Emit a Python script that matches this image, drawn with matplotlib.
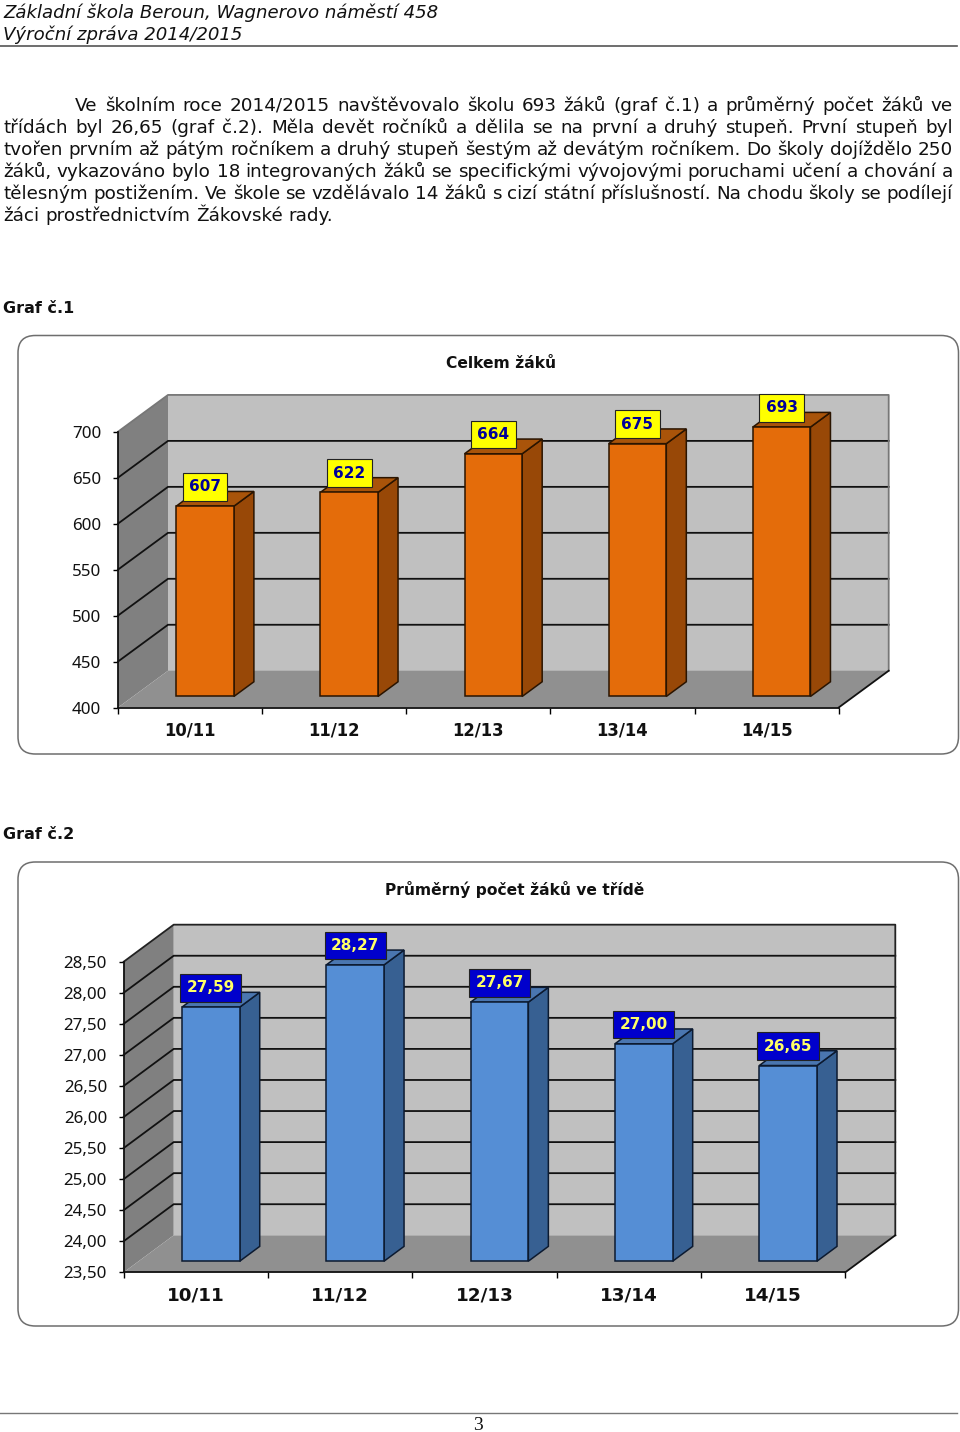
import matplotlib
matplotlib.use("Agg")
import matplotlib.pyplot as plt
from matplotlib.patches import FancyBboxPatch

W = 960
H = 1432

# chart data
years = ["10/11", "11/12", "12/13", "13/14", "14/15"]
pupils = [607, 622, 664, 675, 693]
pupils_ticks = [400, 450, 500, 550, 600, 650, 700]
class_avg = [27.59, 28.27, 27.67, 27.00, 26.65]
class_ticks = [23.5, 24.0, 24.5, 25.0, 25.5, 26.0, 26.5, 27.0, 27.5, 28.0, 28.5]

header = ["Základní škola Beroun, Wagnerovo náměstí 458", "Výroční zpráva 2014/2015"]
body = [
    "Ve školním roce 2014/2015 navštěvovalo školu 693 žáků (graf č.1) a průměrný počet žáků ve",
    "třídách byl 26,65 (graf č.2). Měla devět ročníků a dělila se na první a druhý stupeň. První stupeň byl",
    "tvořen prvním až pátým ročníkem a druhý stupeň šestým až devátým ročníkem. Do školy dojíždělo 250",
    "žáků, vykazováno bylo 18 integrovaných žáků se specifickými vývojovými poruchami učení a chování a",
    "tělesným postižením. Ve škole se vzdělávalo 14 žáků s cizí státní příslušností. Na chodu školy se podílejí",
    "žáci prostřednictvím Žákovské rady.",
]

fig = plt.figure(figsize=(W / 100, H / 100), dpi=100)
renderer = fig.canvas.get_renderer()


def page_text(x, y, s, **kw):
    return fig.text(x / W, 1 - y / H, s, va=kw.pop("va", "baseline"), **kw)


def page_line(y, x0=0, x1=957, color="#555555", lw=1.2):
    fig.add_artist(plt.Line2D([x0 / W, x1 / W], [1 - y / H, 1 - y / H], color=color, lw=lw))


def justified(x0, x1, y, line, stretch=True, **kw):
    words = line.split(" ")
    items = [page_text(x0, y, w, **kw) for w in words]
    widths = [t.get_window_extent(renderer).width for t in items]
    space = page_text(0, 0, "n n", **kw)
    n = page_text(0, 0, "nn", **kw)
    normal = space.get_window_extent(renderer).width - n.get_window_extent(renderer).width
    space.remove()
    n.remove()
    gap = (x1 - x0 - sum(widths)) / (len(words) - 1) if stretch else normal
    x = x0
    for t, wd in zip(items, widths):
        t.set_x(x / W)
        x += wd + gap


def chart(rect, frame, title, title_xy, values, ticks, tick_fmt, depth_y, colors,
          label_colors, xfont, title_size):
    # rect = front plane of the 3D box in pixels (left, top, right, bottom)
    box = FancyBboxPatch((frame[0] / W, 1 - frame[3] / H), (frame[2] - frame[0]) / W,
                         (frame[3] - frame[1]) / H, transform=fig.transFigure,
                         boxstyle="round,pad=0,rounding_size=0.018", mutation_aspect=W / H,
                         fc="white", ec="#6e6e6e", lw=1.1, zorder=-1)
    fig.add_artist(box)
    l, t, r, b = rect
    ax = fig.add_axes([l / W, 1 - b / H, (r - l) / W, (b - t) / H], facecolor="none")
    n = len(values)
    ax.set_xlim(0, n)
    ax.set_ylim(ticks[0], ticks[-1])
    dx = 50 / ((r - l) / n)
    ymin, ymax = ticks[0], ticks[-1]
    edge = colors[3]

    # walls and floor
    ax.fill([dx, n + dx, n + dx, dx], [ymin + depth_y, ymin + depth_y, ymax + depth_y, ymax + depth_y],
            color="#c0c0c0", lw=0, clip_on=False, zorder=1)
    ax.fill([0, dx, dx, 0], [ymin, ymin + depth_y, ymax + depth_y, ymax], color="#808080", lw=0,
            clip_on=False, zorder=1)
    ax.fill([0, n, n + dx, dx], [ymin, ymin, ymin + depth_y, ymin + depth_y], color="#909090", lw=0,
            clip_on=False, zorder=1)
    for v in ticks[1:-1]:
        ax.plot([0, dx, n + dx], [v, v + depth_y, v + depth_y], color="#111111", lw=1.3,
                clip_on=False, zorder=2, solid_joinstyle="miter")
    ax.plot([0, dx, n + dx, n + dx], [ymax, ymax + depth_y, ymax + depth_y, ymin + depth_y],
            color=colors[4], lw=1.3, clip_on=False, zorder=2)
    ax.plot([n, n + dx], [ymin, ymin + depth_y], color="#111111", lw=1.3, clip_on=False, zorder=2)

    # 3D bars, placed 0.3 to 0.7 into the depth of the box
    fx = dx * 0.3
    fy = depth_y * 0.3
    sx = dx * 0.4
    sy = depth_y * 0.4
    bw = 0.4
    for i, v in enumerate(values):
        x0 = i + 0.3 + fx
        x1 = x0 + bw
        base = ymin + fy
        top = v + fy
        z = 3 + i
        ax.bar(x0, v - ymin, width=bw, bottom=base, align="edge", color=colors[0], edgecolor=edge,
               lw=1.1, clip_on=False, zorder=z + 0.2)
        ax.fill([x1, x1 + sx, x1 + sx, x1], [base, base + sy, top + sy, top], fc=colors[1], ec=edge,
                lw=1.1, clip_on=False, zorder=z)
        ax.fill([x0, x1, x1 + sx, x0 + sx], [top, top, top + sy, top + sy], fc=colors[2], ec=edge,
                lw=1.1, clip_on=False, zorder=z)
        ax.annotate(tick_fmt(v), (x0 + bw / 2, top), xytext=(0, 8.5), textcoords="offset points",
                    ha="center", va="bottom", family="DejaVu Sans", weight="bold", fontsize=11,
                    color=label_colors[1], zorder=20, annotation_clip=False,
                    bbox=dict(boxstyle="square,pad=0.42", fc=label_colors[0], ec="#222222", lw=0.8))

    # axes
    for s in ["top", "right"]:
        ax.spines[s].set_visible(False)
    for s in ["left", "bottom"]:
        ax.spines[s].set_color("#111111")
        ax.spines[s].set_linewidth(1.3)
        ax.spines[s].set_zorder(2.5)
    ax.set_yticks(ticks)
    ax.set_yticklabels([tick_fmt(v) for v in ticks], family="Noto Sans", fontsize=12.2, color="#111111")
    ax.tick_params(axis="y", length=3.5, width=1, pad=8.5)
    ax.set_xticks(range(n + 1))
    ax.set_xticklabels([])
    ax.tick_params(axis="x", which="major", length=4, width=1)
    ax.set_xticks([i + 0.5 for i in range(n)], minor=True)
    ax.set_xticklabels(years, minor=True, family="DejaVu Sans", weight="bold", fontsize=xfont,
                       color="#111111")
    ax.tick_params(axis="x", which="minor", length=0, pad=10)

    page_text(title_xy[0], title_xy[1], title, ha="center", va="center", family="DejaVu Sans",
              weight="bold", fontsize=title_size, color="#111111")
    return ax


# page head and body text
for y, s in zip([17.5, 39.5], header):
    page_text(3, y, s, style="italic", family="DejaVu Sans", fontsize=13.05, color="#111111")
page_line(45.5)

for i, s in enumerate(body):
    x0 = 75 if i == 0 else 3
    justified(x0, 953, 111 + 22 * i, s, stretch=i < len(body) - 1, family="DejaVu Sans",
              fontsize=13.2, color="#111111")

page_text(3, 313, "Graf č.1", family="DejaVu Sans", weight="bold", fontsize=11.5, color="#111111")
page_text(3, 839, "Graf č.2", family="DejaVu Sans", weight="bold", fontsize=11.5, color="#111111")

chart((118, 431.7, 838.7, 707.5), (18, 335.5, 958.5, 754), "Celkem žáků", (501, 364),
      pupils, pupils_ticks, lambda v: str(v), 40,
      ("#e46c0a", "#984807", "#a9540a", "#2a1400", "#777777"), ("#ffff00", "#000099"), 11.9, 11.2)

chart((123.7, 961.7, 845.3, 1272.3), (18, 862, 958.5, 1326), "Průměrný počet žáků ve třídě", (515, 890),
      class_avg, class_ticks, lambda v: f"{v:.2f}".replace(".", ","), 0.596,
      ("#558ed5", "#376092", "#4a76b0", "#0c1a30", "#222222"), ("#0000cc", "#ffff66"), 13.2, 11.2)

# page foot
page_line(1412.5, color="#777777", lw=1.0)
page_text(478, 1430, "3", ha="center", family="Liberation Serif", fontsize=14, color="#111111")

fig.savefig("out.png", dpi=100)
